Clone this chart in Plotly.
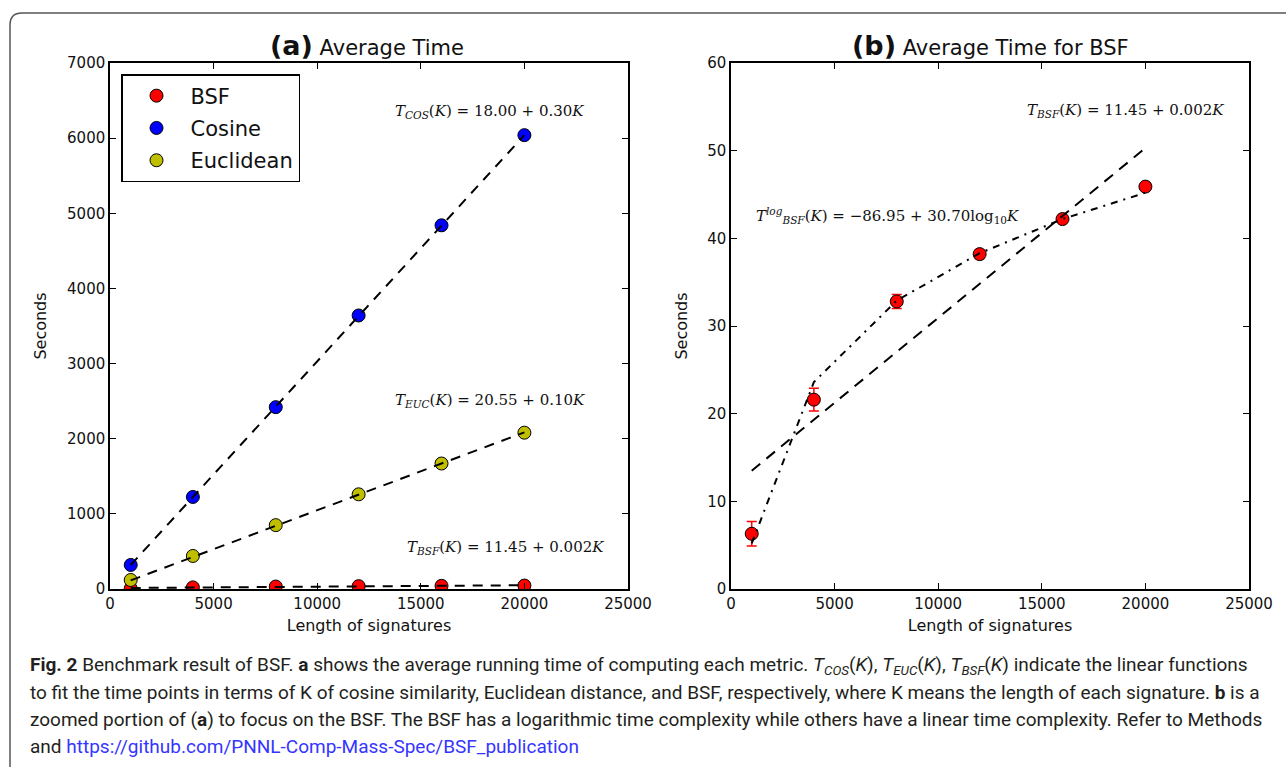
import plotly.graph_objects as go

# ---------------- data ----------------
sig_len = [1000, 4000, 8000, 12000, 16000, 20000]
bsf_time = [6.3, 21.6, 32.8, 38.2, 42.2, 45.9]
bsf_err = [1.4, 1.3, 0.8, 0.5, 0.3, 0.4]
cos_time = [320, 1225, 2420, 3640, 4840, 6040]
euc_time = [120, 440, 850, 1260, 1670, 2080]

fit_x = [1000, 20000]
cos_fit = [320, 6040]
euc_fit = [115, 2085]
bsf_lin_fit = [13.5, 50.3]
bsf_log_fit = [5.2, 23.6, 32.9, 38.3, 42.2, 45.2]

x_ticks = [0, 5000, 10000, 15000, 20000, 25000]
x_ticklabels = ["0", "5000", "10000", "15000", "20000", "25000"]
ya_ticks = [0, 1000, 2000, 3000, 4000, 5000, 6000, 7000]
yb_ticks = [0, 10, 20, 30, 40, 50, 60]

RED = "#ff0000"
BLUE = "#0000ff"
OLIVE = "#bfbf00"
W, H = 1286, 767


def px(x):
    return x / W


def py(y):
    return 1 - y / H


fig = go.Figure()

for name, yv, col in [("BSF", bsf_time, RED), ("Cosine", cos_time, BLUE), ("Euclidean", euc_time, OLIVE)]:
    fig.add_trace(go.Scatter(
        x=sig_len, y=yv, mode="markers", name=name, legendgroup=name,
        marker=dict(color=col, size=13, line=dict(color="black", width=1)),
        xaxis="x", yaxis="y"))

for yv in [cos_fit, euc_fit, bsf_lin_fit]:
    fig.add_trace(go.Scatter(
        x=fit_x, y=yv, mode="lines", showlegend=False,
        line=dict(color="black", width=2, dash="10px,8px"),
        xaxis="x", yaxis="y"))

fig.add_trace(go.Scatter(
    x=sig_len, y=bsf_time, mode="markers", showlegend=False,
    marker=dict(color=RED, size=13, line=dict(color="black", width=1)),
    error_y=dict(type="data", array=bsf_err, visible=True, color=RED, thickness=1.5, width=5),
    xaxis="x2", yaxis="y2"))
fig.add_trace(go.Scatter(
    x=fit_x, y=bsf_lin_fit, mode="lines", showlegend=False,
    line=dict(color="black", width=2, dash="11px,8px"),
    xaxis="x2", yaxis="y2"))
fig.add_trace(go.Scatter(
    x=sig_len, y=bsf_log_fit, mode="lines", showlegend=False,
    line=dict(color="black", width=2, dash="7px,6px,2px,6px"),
    xaxis="x2", yaxis="y2"))

tickfont = dict(family="DejaVu Sans", size=15, color="#111")
titlefont = dict(family="DejaVu Sans", size=16, color="#111")
axis_common = dict(showline=True, linecolor="black", linewidth=1.5, mirror="allticks",
                   ticks="inside", ticklen=6, tickcolor="black", tickwidth=1,
                   showgrid=False, zeroline=False, tickfont=tickfont, automargin=False)

fig.update_layout(
    width=W, height=H,
    autosize=False,
    margin=dict(l=0, r=0, t=0, b=0, pad=0, autoexpand=False),
    paper_bgcolor="white", plot_bgcolor="white",
    xaxis=dict(domain=[px(110), px(628)], range=[0, 25000], tickvals=x_ticks, ticktext=x_ticklabels,
               title=dict(text="Length of signatures", font=titlefont, standoff=8),
               anchor="y", **axis_common),
    yaxis=dict(domain=[py(589), py(63)], range=[0, 7000], tickvals=ya_ticks,
               title=dict(text="Seconds", font=titlefont, standoff=16),
               anchor="x", **axis_common),
    xaxis2=dict(domain=[px(731), px(1249)], range=[0, 25000], tickvals=x_ticks, ticktext=x_ticklabels,
                title=dict(text="Length of signatures", font=titlefont, standoff=8),
                anchor="y2", **axis_common),
    yaxis2=dict(domain=[py(589), py(63)], range=[0, 60], tickvals=yb_ticks,
                title=dict(text="Seconds", font=titlefont, standoff=16),
                anchor="x2", **axis_common),
    legend=dict(x=px(121), y=py(74), xanchor="left", yanchor="top",
                bgcolor="white", bordercolor="black", borderwidth=1.5,
                font=dict(family="DejaVu Sans", size=21, color="#111"),
                tracegroupgap=2, itemwidth=58),
    showlegend=True,
)

# outer rounded frame of the figure panel
r = 12
x0, y0 = 10, 13
x1, y1 = W + 20, H + 20
path = (f"M {px(x0)},{py(y1)} L {px(x0)},{py(y0 + r)} "
        f"Q {px(x0)},{py(y0)} {px(x0 + r)},{py(y0)} L {px(x1)},{py(y0)}")
fig.add_shape(type="path", xref="paper", yref="paper", path=path,
              line=dict(color="#555", width=1.5))

ann = []
ann.append(dict(x=px(367), y=py(45), text="<span style='font-size:27px'><b>(a)</b></span> Average Time",
                font=dict(family="DejaVu Sans", size=21, color="#111")))
ann.append(dict(x=px(990), y=py(45), text="<span style='font-size:27px'><b>(b)</b></span> Average Time for BSF",
                font=dict(family="DejaVu Sans", size=21, color="#111")))
eqfont = dict(family="DejaVu Serif", size=15, color="#111")
ann.append(dict(x=px(490), y=py(112), text="<i>T</i><sub><i>COS</i></sub>(<i>K</i>) = 18.00 + 0.30<i>K</i>", font=eqfont))
ann.append(dict(x=px(490), y=py(400), text="<i>T</i><sub><i>EUC</i></sub>(<i>K</i>) = 20.55 + 0.10<i>K</i>", font=eqfont))
ann.append(dict(x=px(505), y=py(547), text="<i>T</i><sub><i>BSF</i></sub>(<i>K</i>) = 11.45 + 0.002<i>K</i>", font=eqfont))
ann.append(dict(x=px(1125), y=py(110), text="<i>T</i><sub><i>BSF</i></sub>(<i>K</i>) = 11.45 + 0.002<i>K</i>", font=eqfont))
ann.append(dict(x=px(887), y=py(216),
                text="<i>T</i><sup><i>log</i></sup><sub><i>BSF</i></sub>(<i>K</i>) = −86.95 + 30.70log<sub>10</sub><i>K</i>",
                font=eqfont))

capfont = dict(family="Roboto", size=19, color="#231f20")
cap_lines = [
    "<b>Fig. 2</b> Benchmark result of BSF. <b>a</b> shows the average running time of computing each metric. "
    "<i>T<sub>COS</sub></i>(<i>K</i>), <i>T<sub>EUC</sub></i>(<i>K</i>), <i>T<sub>BSF</sub></i>(<i>K</i>) indicate the linear functions",
    "to fit the time points in terms of K of cosine similarity, Euclidean distance, and BSF, respectively, where K means the length of each signature. <b>b</b> is a",
    "zoomed portion of (<b>a</b>) to focus on the BSF. The BSF has a logarithmic time complexity while others have a linear time complexity. Refer to Methods",
    "and <span style='color:#3535ff'>https://github.com/PNNL-Comp-Mass-Spec/BSF_publication</span>",
]
for i, line in enumerate(cap_lines):
    ann.append(dict(x=px(28), y=py(665 + i * 27), text=line, xanchor="left", font=capfont))

for a in ann:
    a.setdefault("xanchor", "center")
    a.update(xref="paper", yref="paper", yanchor="middle", showarrow=False)
    fig.add_annotation(**a)

fig.write_html(
    "out.html",
    config={"displayModeBar": False},
    post_script="document.body.style.margin='0';document.documentElement.style.overflow='hidden';",
)
